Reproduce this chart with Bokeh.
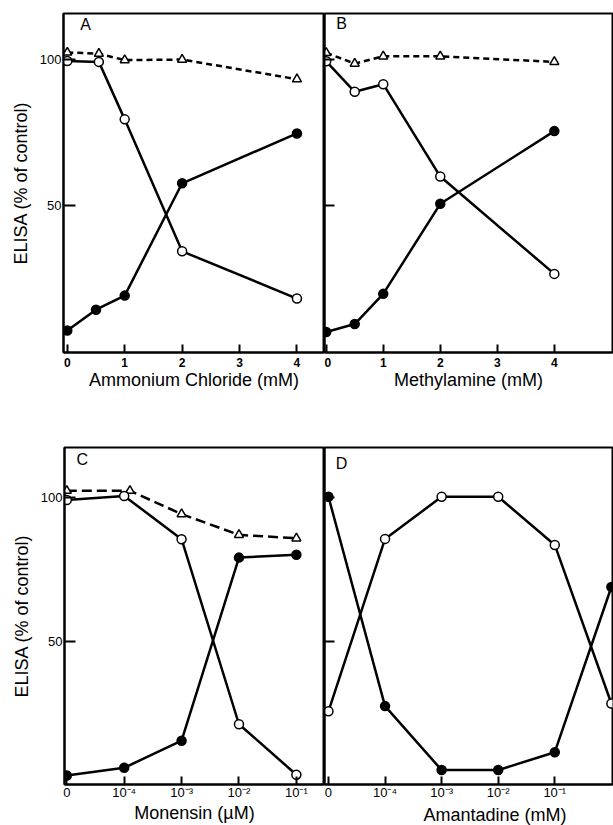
from bokeh.plotting import figure
from bokeh.layouts import column, row
from bokeh.models import Range1d, FixedTicker, Label, Title
from bokeh.embed import file_html
from bokeh.resources import INLINE

FONT = "Liberation Sans"

# ---------------- data ----------------
# Panel A: Ammonium Chloride (mM)
a_tri_x = [0, 0.55, 1, 2, 4]
a_tri_y = [102.3, 101.9, 99.7, 99.9, 93.2]
a_open_x = [0, 0.55, 1, 2, 4]
a_open_y = [99.4, 99.1, 79.5, 34.5, 18.4]
a_fill_x = [0, 0.5, 1, 2, 4]
a_fill_y = [7.5, 14.6, 19.4, 57.7, 74.7]

# Panel B: Methylamine (mM)
b_x = [0, 0.5, 1, 2, 4]
b_tri_y = [102.2, 98.5, 101.0, 101.0, 99.1]
b_open_y = [99.3, 88.9, 91.5, 60.0, 26.8]
b_fill_y = [7.0, 9.7, 20.0, 50.7, 75.5]

# Panel C: Monensin (uM), categorical log positions
c_tick_labels = ["0", "10⁻⁴", "10⁻³", "10⁻²", "10⁻¹"]
c_x = [0, 1, 2, 3, 4]
c_tri_x = [0, 1.1, 2, 3, 4]
c_tri_y = [102.2, 102.2, 94.1, 86.9, 85.7]
c_open_y = [99.0, 100.4, 85.4, 21.2, 3.7]
c_fill_y = [3.4, 6.1, 15.5, 79.0, 80.0]

# Panel D: Amantadine (mM)
d_tick_labels = ["0", "10⁻⁴", "10⁻³", "10⁻²", "10⁻¹"]
d_x = [0, 1, 2, 3, 4, 5]
d_open_y = [25.7, 85.5, 100.1, 100.1, 83.4, 28.4]
d_fill_y = [100.1, 27.5, 5.3, 5.3, 11.5, 68.8]

y_ticks = [50, 100]


def base_fig(width, height, xr, yr, mbl, mbr, mbt, mbb):
    p = figure(width=width, height=height, x_range=Range1d(*xr), y_range=Range1d(*yr),
               min_border_left=mbl, min_border_right=mbr, min_border_top=mbt,
               min_border_bottom=mbb, output_backend="svg", toolbar_location=None,
               title=None)
    p.grid.visible = False
    p.outline_line_color = "black"
    p.outline_line_width = 2
    p.outline_line_alpha = 1
    p.background_fill_color = "white"
    p.border_fill_color = "white"
    for ax in p.axis:
        ax.axis_line_width = 2
        ax.axis_line_color = "black"
        ax.major_tick_line_width = 2
        ax.major_tick_line_color = "black"
        ax.minor_tick_line_color = None
        ax.major_tick_out = 0
        ax.major_label_text_font = FONT
        ax.axis_label_text_font = FONT
        ax.axis_label_text_font_style = "normal"
        ax.axis_label_text_color = "black"
        ax.major_label_text_color = "black"
    p.yaxis.ticker = FixedTicker(ticks=y_ticks)
    p.yaxis.major_tick_in = 11
    return p


def style_left(p, show):
    ax = p.yaxis[0]
    ax.major_label_text_font_size = "13px"
    if show:
        ax.axis_label = "ELISA (% of control)"
        ax.axis_label_text_font_size = "18px"
        ax.axis_label_standoff = 6
        ax.major_label_standoff = 2
    else:
        ax.axis_label = None
        ax.major_label_overrides = {t: "" for t in y_ticks}
        ax.major_label_standoff = 0


def draw(p, x, y, marker, fill, dash="solid"):
    p.line(x, y, line_width=2.5, line_color="black", line_dash=dash)
    p.scatter(x, y, marker=marker, size=9, fill_color=fill, line_color="black",
              line_width=1.5)


def letter(p, txt, x, y):
    p.add_layout(Label(x=x, y=y, text=txt, text_font=FONT, text_font_size="16px",
                       text_align="center", text_baseline="middle", text_color="black"))


TOP_H = 440
BOT_H = 385
AB_Y = (0, 115.6)
CD_Y = (0.3, 117.2)

# ---------- A ----------
pa = base_fig(324, TOP_H, (-0.066, 4.48), AB_Y, 63, 0, 13, 88)
style_left(pa, True)
pa.xaxis.ticker = FixedTicker(ticks=[0, 1, 2, 3, 4])
pa.xaxis.major_tick_in = 8
pa.xaxis.major_label_text_font_size = "12px"
pa.xaxis.major_label_text_font_style = "bold"
pa.xaxis.major_label_standoff = 5
pa.xaxis.axis_label = "Ammonium Chloride (mM)"
pa.xaxis.axis_label_text_font_size = "18px"
pa.xaxis.axis_label_standoff = 0
pa.yaxis.major_tick_in = 12
draw(pa, a_tri_x, a_tri_y, "triangle", "white", "6 4")
draw(pa, a_open_x, a_open_y, "circle", "white")
draw(pa, a_fill_x, a_fill_y, "circle", "black")
letter(pa, "A", 0.32, 111.9)

# ---------- B ----------
pb = base_fig(289, TOP_H, (-0.03, 5.02), AB_Y, 0, 1, 13, 88)
style_left(pb, False)
pb.yaxis.major_tick_in = 10
pb.xaxis.ticker = FixedTicker(ticks=[0, 1, 2, 3, 4])
pb.xaxis.major_tick_in = 8
pb.xaxis.major_label_text_font_size = "12px"
pb.xaxis.major_label_text_font_style = "bold"
pb.xaxis.major_label_standoff = 5
pb.xaxis.axis_label = "Methylamine (mM)"
pb.xaxis.axis_label_text_font_size = "18px"
pb.xaxis.axis_label_standoff = 0
draw(pb, b_x, b_tri_y, "triangle", "white", "6 4")
draw(pb, b_x, b_open_y, "circle", "white")
draw(pb, b_x, b_fill_y, "circle", "black")
letter(pb, "B", 0.27, 112.3)

# ---------- C ----------
pc = base_fig(324, BOT_H, (-0.04, 4.49), CD_Y, 64, 0, 7, 39)
style_left(pc, True)
pc.xaxis.ticker = FixedTicker(ticks=c_x)
pc.xaxis.major_label_overrides = {i: s for i, s in zip(c_x, c_tick_labels)}
pc.xaxis.major_tick_in = 8
pc.xaxis.major_label_text_font_size = "13px"
pc.xaxis.major_label_standoff = 0
pc.xaxis.axis_label = "Monensin (µM)"
pc.xaxis.axis_label_text_font_size = "18px"
pc.xaxis.axis_label_standoff = 0
draw(pc, c_tri_x, c_tri_y, "triangle", "white", "10 5")
draw(pc, c_x, c_open_y, "circle", "white")
draw(pc, c_x, c_fill_y, "circle", "black")
letter(pc, "C", 0.27, 113.1)

# ---------- D ----------
pd_ = base_fig(289, BOT_H, (-0.07, 5.02), CD_Y, 0, 1, 7, 39)
style_left(pd_, False)
pd_.yaxis.major_tick_in = 10
pd_.xaxis.ticker = FixedTicker(ticks=[0, 1, 2, 3, 4])
pd_.xaxis.major_label_overrides = {i: s for i, s in zip(range(5), d_tick_labels)}
pd_.xaxis.major_tick_in = 8
pd_.xaxis.major_label_text_font_size = "13px"
pd_.xaxis.major_label_standoff = 0
pd_.xaxis.axis_label = None
pd_.add_layout(Title(text="Amantadine (mM)", text_font=FONT, text_font_size="18px",
                     text_font_style="normal", text_color="black", align="left",
                     offset=99, standoff=0), "below")
draw(pd_, d_x, d_open_y, "circle", "white")
draw(pd_, d_x, d_fill_y, "circle", "black")
letter(pd_, "D", 0.23, 111.7)

layout = column(row(pa, pb, spacing=0), row(pc, pd_, spacing=0), spacing=0)

with open("out.html", "w") as f:
    f.write(file_html(layout, INLINE))
